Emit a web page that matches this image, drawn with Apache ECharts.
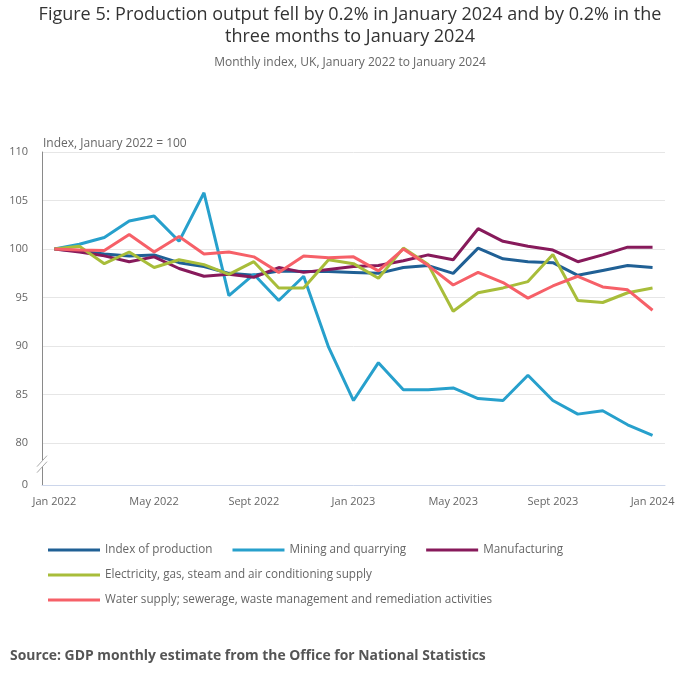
<!DOCTYPE html>
<html>
<head>
<meta charset="utf-8">
<script src="https://cdn.jsdelivr.net/npm/echarts@6.0.0/dist/echarts.min.js"></script>
<style>
html,body{margin:0;padding:0;background:#fff;}
#chart{width:700px;height:682px;}
</style>
</head>
<body>
<div id="chart"></div>
<script>
var months = ['Jan 2022','Feb 2022','Mar 2022','Apr 2022','May 2022','Jun 2022','Jul 2022','Aug 2022','Sept 2022','Oct 2022','Nov 2022','Dec 2022',
  'Jan 2023','Feb 2023','Mar 2023','Apr 2023','May 2023','Jun 2023','Jul 2023','Aug 2023','Sept 2023','Oct 2023','Nov 2023','Dec 2023','Jan 2024'];

var indexOfProduction = [100,99.8,99.5,99.3,99.4,98.6,98.2,97.5,97.3,97.75,97.7,97.7,97.6,97.5,98.1,98.3,97.5,100.1,99.0,98.7,98.6,97.3,97.8,98.3,98.1];
var mining = [100,100.5,101.2,102.9,103.4,100.8,105.8,95.2,97.4,94.7,97.2,89.9,84.4,88.3,85.5,85.5,85.7,84.6,84.4,87.0,84.4,83.0,83.35,81.9,80.8];
var manufacturing = [100,99.7,99.3,98.7,99.2,98.0,97.2,97.4,97.1,98.1,97.6,97.9,98.2,98.3,98.8,99.4,98.9,102.1,100.8,100.3,99.9,98.7,99.4,100.2,100.2];
var electricity = [100,100.3,98.5,99.7,98.1,98.9,98.4,97.4,98.7,96.0,96.0,98.9,98.5,97.0,100.1,98.4,93.6,95.5,96.0,96.65,99.45,94.7,94.5,95.5,96.0];
var water = [100,99.9,99.85,101.5,99.7,101.3,99.5,99.7,99.2,97.6,99.3,99.1,99.2,97.75,100.0,98.3,96.3,97.6,96.55,94.95,96.2,97.2,96.1,95.8,93.7];

var seriesNames = ['Index of production','Mining and quarrying','Manufacturing',
  'Electricity, gas, steam and air conditioning supply',
  'Water supply; sewerage, waste management and remediation activities'];
var seriesColors = ['#206095','#27a0cc','#871a5b','#a8bd3a','#f66068'];
var seriesData = [indexOfProduction, mining, manufacturing, electricity, water];

var yLabelValues = [0,80,85,90,95,100,105,110];

var FONT = '"Open Sans", "Noto Sans", sans-serif';
var chart = echarts.init(document.getElementById('chart'), null, {renderer:'canvas'});

var legendCommon = {
  icon: 'rect', itemWidth: 52, itemHeight: 3, itemGap: 20, padding: 0,
  textStyle: {color:'#666', fontSize:11.7, fontFamily:FONT},
  selectedMode: false
};

var option = {
  animation: false,
  backgroundColor: '#fff',
  title: [
    {text: 'Figure 5: Production output fell by 0.2% in January 2024 and by 0.2% in the',
     left: 'center', top: 6, padding: 0,
     textStyle: {fontFamily: FONT, fontSize: 18, fontWeight: 'normal', color: '#333'}},
    {text: 'three months to January 2024',
     left: 'center', top: 28, padding: 0,
     textStyle: {fontFamily: FONT, fontSize: 18, fontWeight: 'normal', color: '#333'}},
    {text: 'Monthly index, UK, January 2022 to January 2024', left: 'center', top: 57, padding: 0,
     textStyle: {fontFamily: FONT, fontSize: 12, fontWeight: 'normal', color: '#666'}},
    {text: 'Source: GDP monthly estimate from the Office for National Statistics', left: 10, top: 649, padding: 0,
     textStyle: {fontFamily: FONT, fontSize: 13.9, fontWeight: 'bold', color: '#555'}}
  ],
  legend: [
    Object.assign({left: 48, top: 544, data: seriesNames.slice(0,3)}, legendCommon),
    Object.assign({left: 48, top: 569, data: [seriesNames[3]]}, legendCommon),
    Object.assign({left: 48, top: 594, data: [seriesNames[4]]}, legendCommon)
  ],
  grid: {left: 42, right: 35, top: 152, bottom: 197, containLabel: false},
  xAxis: {
    type: 'category', data: months, boundaryGap: true,
    axisLine: {lineStyle: {color: '#ccd6eb', width: 1}},
    axisTick: {alignWithLabel: true, interval: 3, length: 9, lineStyle: {color: '#ccd6eb'}},
    axisLabel: {interval: 3, color: '#666', fontSize: 11, fontFamily: FONT, margin: 11},
    splitLine: {show: false}
  },
  yAxis: {
    type: 'value', min: 75.7, max: 110, splitNumber: 7,
    name: 'Index, January 2022 = 100', nameLocation: 'end', nameGap: 2,
    nameTextStyle: {color: '#666', fontSize: 12, fontFamily: FONT, align: 'left', verticalAlign: 'bottom', padding: [0,0,0,1]},
    axisLine: {show: true, lineStyle: {color: '#8a8a8a', width: 1}},
    axisTick: {show: false},
    axisLabel: {color: '#666', fontSize: 11, fontFamily: FONT, margin: 14,
      formatter: function (v) { return v < 79 ? String(yLabelValues[0]) : String(Math.round(v)); }},
    splitLine: {lineStyle: {color: '#e6e6e6', width: 1}}
  },
  series: seriesNames.map(function (n, i) {
    return {
      name: n, type: 'line', data: seriesData[i], showSymbol: false, symbol: 'none',
      lineStyle: {width: 3, color: seriesColors[i]}, itemStyle: {color: seriesColors[i]},
      emphasis: {disabled: true}
    };
  })
};
chart.setOption(option);

// axis break marker, positioned from the axis scale
var p = chart.convertToPixel({gridIndex: 0}, [0, 77.9]);
var ax = 42;
var cy = p[1];
chart.setOption({
  graphic: [
    {type: 'polygon', z: 100, shape: {points: [[ax-5, cy+3], [ax+5, cy-8], [ax+5, cy-2], [ax-5, cy+9]]}, style: {fill: '#fff'}},
    {type: 'line', z: 101, shape: {x1: ax-5, y1: cy+3, x2: ax+5, y2: cy-8}, style: {stroke: '#aaa', lineWidth: 1}},
    {type: 'line', z: 101, shape: {x1: ax-5, y1: cy+9, x2: ax+5, y2: cy-2}, style: {stroke: '#aaa', lineWidth: 1}}
  ]
});
</script>
</body>
</html>
